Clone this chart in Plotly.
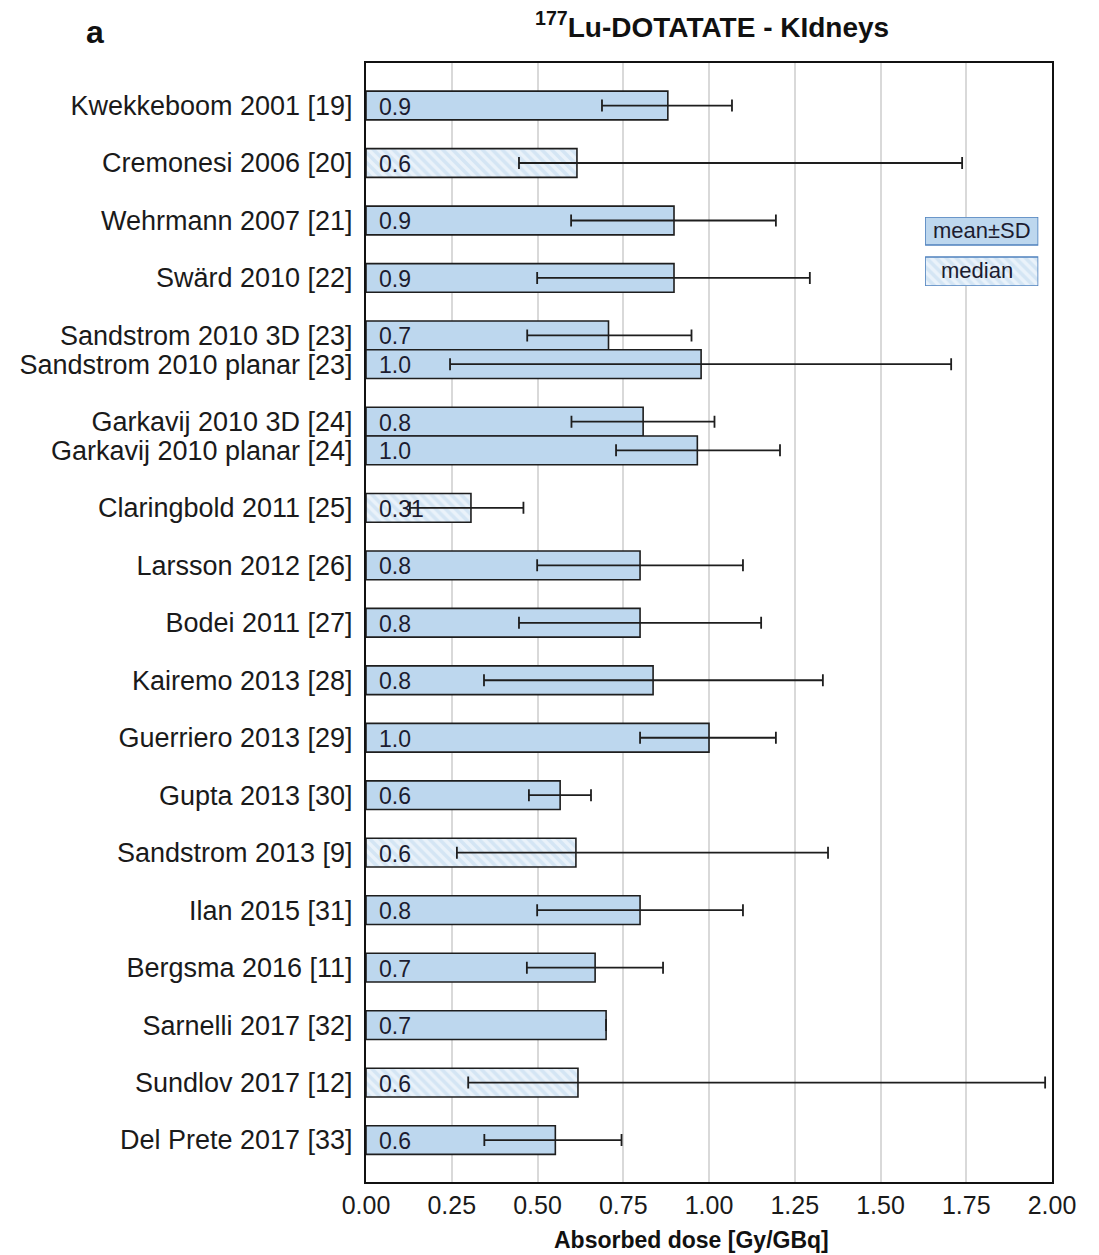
import plotly.graph_objects as go

# Absorbed kidney dose per GBq of 177Lu-DOTATATE reported by each study
studies = [
    "Kwekkeboom 2001 [19]", "Cremonesi 2006 [20]", "Wehrmann 2007 [21]",
    "Swärd 2010 [22]", "Sandstrom 2010 3D [23]", "Sandstrom 2010 planar [23]",
    "Garkavij 2010 3D [24]", "Garkavij 2010 planar [24]", "Claringbold 2011 [25]",
    "Larsson 2012 [26]", "Bodei 2011 [27]", "Kairemo 2013 [28]",
    "Guerriero 2013 [29]", "Gupta 2013 [30]", "Sandstrom 2013 [9]",
    "Ilan 2015 [31]", "Bergsma 2016 [11]", "Sarnelli 2017 [32]",
    "Sundlov 2017 [12]", "Del Prete 2017 [33]",
]
# second entry of a pair of methods from the same study
paired_with_previous = [False, False, False, False, False, True, False, True, False,
                        False, False, False, False, False, False, False, False, False,
                        False, False]
dose = [0.88, 0.615, 0.898, 0.898, 0.707, 0.977, 0.808, 0.966, 0.306,
        0.799, 0.799, 0.837, 1.00, 0.566, 0.612, 0.799, 0.668, 0.70,
        0.618, 0.552]
err_low = [0.688, 0.446, 0.598, 0.499, 0.470, 0.245, 0.599, 0.729, 0.128,
           0.499, 0.446, 0.344, 0.799, 0.475, 0.265, 0.499, 0.469, None,
           0.298, 0.345]
err_high = [1.067, 1.738, 1.195, 1.294, 0.949, 1.706, 1.016, 1.207, 0.459,
            1.099, 1.152, 1.332, 1.195, 0.656, 1.347, 1.099, 0.866, None,
            1.98, 0.745]
is_median = [False, True, False, False, False, False, False, False, True,
             False, False, False, False, False, True, False, False, False,
             True, False]
label_decimals = [1, 1, 1, 1, 1, 1, 1, 1, 2, 1, 1, 1, 1, 1, 1, 1, 1, 1, 1, 1]
x_ticks = [0.0, 0.25, 0.5, 0.75, 1.0, 1.25, 1.5, 1.75, 2.0]

FONT = "Liberation Sans, Arial, Helvetica, sans-serif"
BAR_BLUE = "#bdd7ee"
HATCH_BG = "#eaf2fa"
EDGE = "#1e1e1e"

# vertical slot of each study: one row per study, half a row inside a pair
positions = []
pos = 0.0
for i, paired in enumerate(paired_with_previous):
    if i > 0:
        pos += 0.5 if paired else 1.0
    positions.append(pos)


def subset(values, want_median):
    return [v for v, m in zip(values, is_median) if m == want_median]


def err_plus(want_median):
    return [None if h is None else h - d
            for d, h, m in zip(dose, err_high, is_median) if m == want_median]


def err_minus(want_median):
    return [None if lo is None else d - lo
            for d, lo, m in zip(dose, err_low, is_median) if m == want_median]


fig = go.Figure()

for want_median in (False, True):
    marker = dict(color=BAR_BLUE, line=dict(color=EDGE, width=1.6))
    if want_median:
        marker = dict(
            color=HATCH_BG,
            line=dict(color=EDGE, width=1.6),
            pattern=dict(shape="\\", fgcolor=BAR_BLUE, bgcolor=HATCH_BG,
                         size=7, solidity=0.5),
        )
    fig.add_trace(go.Bar(
        orientation="h",
        x=subset(dose, want_median),
        y=subset(positions, want_median),
        width=0.5,
        marker=marker,
        error_x=dict(type="data", symmetric=False,
                     array=err_plus(want_median),
                     arrayminus=err_minus(want_median),
                     color=EDGE, thickness=1.8, width=6),
        showlegend=False,
        hoverinfo="x+y",
    ))

# value labels at the base of each bar
for d, p, nd in zip(dose, positions, label_decimals):
    fig.add_annotation(
        x=0, y=p, xref="x", yref="y", text=f"{d:.{nd}f}",
        xanchor="left", yanchor="middle", xshift=11, yshift=-1, showarrow=False,
        font=dict(family=FONT, size=23, color="#1c1c30"),
    )

# key boxes for mean±SD and median, drawn on a small overlay axis
fig.add_trace(go.Bar(
    orientation="h", x=[1], y=[0.203], width=0.406, base=0,
    xaxis="x2", yaxis="y2",
    marker=dict(color=BAR_BLUE, line=dict(color="#4f81bd", width=1.6)),
    showlegend=False, hoverinfo="skip",
))
fig.add_trace(go.Bar(
    orientation="h", x=[1], y=[0.79], width=0.42, base=0,
    xaxis="x2", yaxis="y2",
    marker=dict(color=HATCH_BG, line=dict(color="#4f81bd", width=1.6),
                pattern=dict(shape="\\", fgcolor=BAR_BLUE, bgcolor=HATCH_BG,
                             size=7, solidity=0.5)),
    showlegend=False, hoverinfo="skip",
))
for txt, xx, yy in (("mean±SD", 0.5, 0.203), ("median", 0.46, 0.77)):
    fig.add_annotation(
        x=xx, y=yy, xref="x2", yref="y2", text=txt, showarrow=False,
        xanchor="center", yanchor="middle",
        font=dict(family=FONT, size=22, color="#1c1c30"),
    )

# panel letter, title and axis title
fig.add_annotation(
    x=-0.395, y=1.028, xref="paper", yref="paper", text="<b>a</b>",
    showarrow=False, xanchor="center", yanchor="middle",
    font=dict(family=FONT, size=32, color="#111111"),
)
fig.add_annotation(
    x=0.505, y=1.034, xref="paper", yref="paper",
    text="<b><sup>177</sup>Lu-DOTATATE - KIdneys</b>",
    showarrow=False, xanchor="center", yanchor="middle",
    font=dict(family=FONT, size=28, color="#111111"),
)
fig.add_annotation(
    x=0.475, y=-0.052, xref="paper", yref="paper",
    text="<b>Absorbed dose [Gy/GBq]</b>",
    showarrow=False, xanchor="center", yanchor="middle",
    font=dict(family=FONT, size=23, color="#111111"),
)

fig.update_layout(
    width=1099, height=1255,
    margin=dict(l=366, r=47, t=63, b=73),
    paper_bgcolor="white", plot_bgcolor="white",
    barmode="overlay",
    font=dict(family=FONT, color="#1a1a1a"),
    xaxis=dict(
        range=[0, 2.0], tickvals=x_ticks,
        ticktext=[f"{t:.2f}" for t in x_ticks],
        showgrid=True, gridcolor="#d9d9d9", gridwidth=1.5,
        showline=True, linecolor="#111111", linewidth=2, mirror=True,
        ticks="", ticklabelstandoff=0, zeroline=False,
        tickfont=dict(family=FONT, size=25, color="#1a1a1a"),
    ),
    yaxis=dict(
        range=[18.73, -0.74], tickvals=positions, ticktext=studies,
        showgrid=False, zeroline=False,
        showline=True, linecolor="#111111", linewidth=2, mirror=True,
        ticks="", ticklabelstandoff=6,
        tickfont=dict(family=FONT, size=27, color="#1a1a1a"),
    ),
    xaxis2=dict(domain=[0.815, 0.98], range=[0, 1], anchor="y2",
                visible=False, fixedrange=True),
    yaxis2=dict(domain=[0.8007, 0.8624], range=[1, 0], anchor="x2",
                visible=False, fixedrange=True),
)

fig.write_html("out.html")
